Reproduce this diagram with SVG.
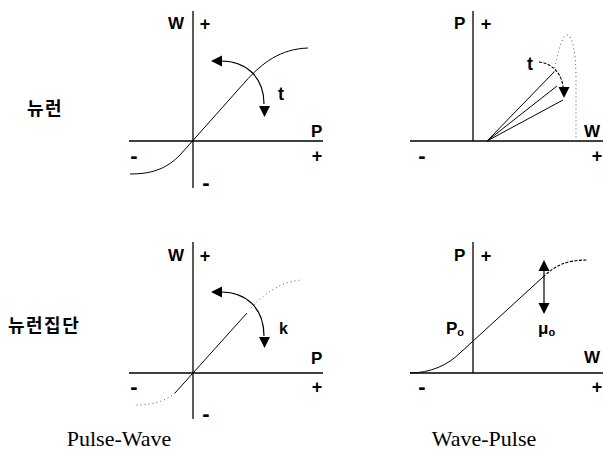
<svg xmlns="http://www.w3.org/2000/svg" xmlns:xlink="http://www.w3.org/1999/xlink" width="603" height="459" viewBox="0 0 603 459">
<style>
.ax{stroke:#000;stroke-width:1.3;fill:none}
.cv{stroke:#000;stroke-width:1;fill:none}
.dot{stroke:#444;stroke-width:0.9;fill:none;stroke-dasharray:1 3}
.dsh{stroke:#000;stroke-width:1.1;fill:none;stroke-dasharray:3 1.5}
.arc{stroke:#000;stroke-width:1.2;fill:none}
.lb{font-family:"Liberation Sans","DejaVu Sans",sans-serif;font-weight:bold;font-size:17px;fill:#000}
.sg{font-family:"Liberation Sans","DejaVu Sans",sans-serif;font-weight:bold;font-size:18px;fill:#000;text-anchor:middle}
.mn{font-family:"Liberation Sans","DejaVu Sans",sans-serif;font-weight:bold;font-size:22px;fill:#000;text-anchor:middle}
.kr{font-family:"Noto Sans CJK KR","Noto Sans",sans-serif;font-weight:bold;font-size:18px;fill:#000;letter-spacing:1.5px}
.cap{font-family:"Liberation Serif","DejaVu Serif",serif;font-size:22px;fill:#000;text-anchor:middle}
</style>
<defs>
<path id="ah" d="M0,0 L-11,-5.5 L-11,5.5 Z" fill="#000"/>
</defs>

<g id="row-labels">
<text class="kr" x="27" y="115">뉴런</text>
<text class="kr" x="8" y="332">뉴런집단</text>
</g>

<g id="captions">
<text class="cap" x="119" y="446">Pulse-Wave</text>
<text class="cap" x="484" y="446">Wave-Pulse</text>
</g>

<g id="panel-neuron-pw">
<line class="ax" x1="193" y1="11" x2="193" y2="188"/>
<line class="ax" x1="129" y1="141" x2="323" y2="141"/>
<path class="cv" d="M130,174 C155,174 168,167 180,155 L245,82 C262,63 280,49 308,48"/>
<text class="lb" x="168" y="29">W</text>
<text class="sg" x="205" y="30">+</text>
<text class="lb" x="311" y="137">P</text>
<text class="sg" x="317" y="162">+</text>
<text class="mn" x="134" y="163">-</text>
<text class="mn" x="206" y="190">-</text>
<text class="sg" x="281" y="100">t</text>
</g>

<g id="panel-neuron-wp">
<line class="ax" x1="473" y1="11" x2="473" y2="141"/>
<line class="ax" x1="410" y1="141" x2="603" y2="141"/>
<line class="cv" x1="487" y1="141" x2="554" y2="72"/>
<line class="cv" x1="487" y1="141" x2="557" y2="86"/>
<line class="cv" x1="487" y1="141" x2="563" y2="100"/>
<path class="dot" d="M554,72 C558,52 562,35 567,35 C573,35 576,55 576,80 L576,140"/>
<text class="lb" x="454" y="29">P</text>
<text class="sg" x="486" y="30">+</text>
<text class="lb" x="584" y="137">W</text>
<text class="mn" x="422" y="163">-</text>
<text class="sg" x="597" y="162">+</text>
<text class="sg" x="530" y="70">t</text>
</g>

<g id="panel-group-pw">
<line class="ax" x1="193" y1="242" x2="193" y2="419"/>
<line class="ax" x1="129" y1="373" x2="323" y2="373"/>
<line class="cv" x1="175" y1="393" x2="247" y2="313"/>
<path class="dot" d="M175,393 C165,402 150,405 136,405"/>
<path class="dot" d="M251,308 C265,293 282,281 302,280"/>
<text class="lb" x="168" y="261">W</text>
<text class="sg" x="205" y="262">+</text>
<text class="lb" x="311" y="364">P</text>
<text class="sg" x="317" y="393">+</text>
<text class="mn" x="134" y="394">-</text>
<text class="mn" x="206" y="421">-</text>
<text class="lb" x="279" y="334" style="font-size:16px">k</text>
</g>

<g id="panel-group-wp">
<line class="ax" x1="473" y1="242" x2="473" y2="373"/>
<line class="ax" x1="410" y1="373" x2="603" y2="373"/>
<path class="cv" d="M410,373 C430,373 448,365 460,353 L543,277"/>
<path class="dsh" d="M543,277 C555,266 565,260 588,260"/>
<text class="lb" x="454" y="261">P</text>
<text class="sg" x="486" y="262">+</text>
<text class="lb" x="584" y="363">W</text>
<text class="mn" x="422" y="394">-</text>
<text class="sg" x="597" y="393">+</text>
<text class="lb" x="446" y="334">P<tspan font-size="11" dy="2">o</tspan></text>
<text class="lb" x="538" y="334">μ<tspan font-size="11" dy="2">o</tspan></text>
</g>

<g id="connectors">
<path class="arc" d="M221,61 C247,61 264,78 264,104"/>
<use xlink:href="#ah" href="#ah" transform="translate(211,61) rotate(180)"/>
<use xlink:href="#ah" href="#ah" transform="translate(264.5,117) rotate(90)"/>
<path class="dsh" d="M539,62 C552,63 562,74 563,87"/>
<use xlink:href="#ah" href="#ah" transform="translate(564,98) rotate(90)"/>
<path class="arc" d="M221,292 C247,292 264,309 264,336"/>
<use xlink:href="#ah" href="#ah" transform="translate(211,292) rotate(180)"/>
<use xlink:href="#ah" href="#ah" transform="translate(264.5,348) rotate(90)"/>
<line class="arc" x1="544" y1="270" x2="544" y2="304"/>
<use xlink:href="#ah" href="#ah" transform="translate(544,260) rotate(-90)"/>
<use xlink:href="#ah" href="#ah" transform="translate(544,314) rotate(90)"/>
</g>
</svg>
